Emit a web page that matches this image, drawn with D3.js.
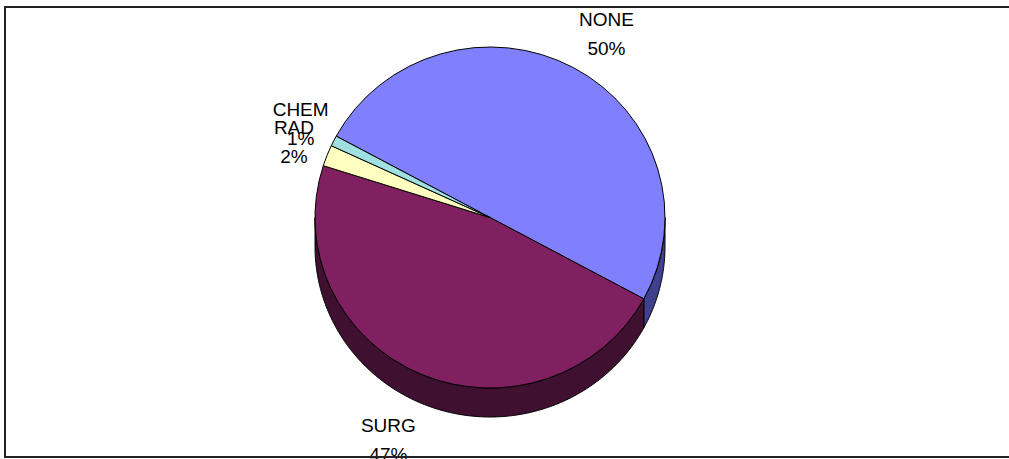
<!DOCTYPE html>
<html>
<head>
<meta charset="utf-8">
<script src="https://cdn.jsdelivr.net/npm/d3@7/dist/d3.min.js"></script>
<style>
  html, body { margin: 0; padding: 0; background: #fff; }
  svg { display: block; }
  text { font-family: Arial, "Liberation Sans", sans-serif; }
</style>
</head>
<body>
<svg id="chart" width="1009" height="459"></svg>
<script>
// Treatment groups and their shares (percent)
const categories = ["NONE", "SURG", "RAD", "CHEM"];
const values = [50, 47, 2, 1];
const topColors = ["#8080FF", "#802060", "#FFFFC0", "#A0E0E0"];
const sideColors = ["#40408F", "#401030", "#808060", "#507070"];

const cx = 490, cy = 217.5;      // centre of the top face
const rx = 175, ry = 170.5;      // radii of the top face ellipse
const depth = 29;                // thickness of the pie
const startDeg = 298.5;          // rotation of the first slice (clockwise from 12 o'clock)
const fontSize = 19, lineGap = 29;

const svg = d3.select("#chart");
const total = d3.sum(values);
const data = categories.map((c, i) => ({ name: c, value: values[i], i }));

const start = startDeg * Math.PI / 180;
const pie = d3.pie().value(d => d.value).sort(null)
  .startAngle(start).endAngle(start + 2 * Math.PI);
const arcs = pie(data);

// point on the ellipse for an angle measured clockwise from the top
const pt = (a, dy = 0) => [cx + rx * Math.sin(a), cy - ry * Math.cos(a) + dy];

// --- side walls (front half only: angles between 90° and 270°) ---
const sideG = svg.append("g");
arcs.forEach(a => {
  // walk neighbouring turns so wrapped slices are covered
  for (let k = -1; k <= 1; k++) {
    const lo = Math.max(a.startAngle + 2 * Math.PI * k, Math.PI / 2);
    const hi = Math.min(a.endAngle + 2 * Math.PI * k, 3 * Math.PI / 2);
    if (hi <= lo) continue;
    const n = Math.max(2, Math.ceil((hi - lo) / 0.01));
    const angs = d3.range(n + 1).map(j => lo + (hi - lo) * j / n);
    const topPts = angs.map(t => pt(t));
    const botPts = angs.slice().reverse().map(t => pt(t, depth));
    sideG.append("path")
      .attr("d", d3.line()(topPts.concat(botPts)) + "Z")
      .attr("fill", sideColors[a.data.i])
      .attr("stroke", "#000")
      .attr("stroke-width", 1)
      .attr("stroke-linejoin", "round");
  }
});

// --- top faces ---
const arcGen = d3.arc().innerRadius(0).outerRadius(rx);
svg.append("g")
  .attr("transform", `translate(${cx},${cy}) scale(1,${ry / rx})`)
  .selectAll("path")
  .data(arcs)
  .join("path")
  .attr("d", arcGen)
  .attr("fill", d => topColors[d.data.i])
  .attr("stroke", "#000")
  .attr("stroke-width", 1)
  .attr("vector-effect", "non-scaling-stroke")
  .attr("stroke-linejoin", "round");

// --- data labels: category name above, percentage below ---
const fmtPct = v => Math.round(v / total * 100) + "%";
const capH = fontSize * 0.716;
const labelG = svg.append("g").attr("font-size", fontSize).attr("fill", "#000");
arcs.forEach(a => {
  const mid = (a.startAngle + a.endAngle) / 2;
  const s = Math.sin(mid), c = Math.cos(mid);
  const front = c < 0 ? depth : 0;
  const [ex, ey] = pt(mid, front);
  // centre of the two-line label block, pushed out from the rim
  const lx = ex + Math.sign(s) * 33;
  const ly = ey - c * 39;
  const b1 = ly - (lineGap - capH) / 2;   // baseline of the first line
  const g = labelG.append("g");
  g.append("text").attr("text-anchor", "middle")
    .attr("x", lx).attr("y", b1).text(a.data.name);
  g.append("text").attr("text-anchor", "middle")
    .attr("x", lx).attr("y", b1 + lineGap).text(fmtPct(a.data.value));
});

// --- chart area frame ---
svg.append("rect")
  .attr("x", 5).attr("y", 7)
  .attr("width", 1100).attr("height", 450)
  .attr("fill", "none")
  .attr("stroke", "#222")
  .attr("stroke-width", 2);
</script>
</body>
</html>
